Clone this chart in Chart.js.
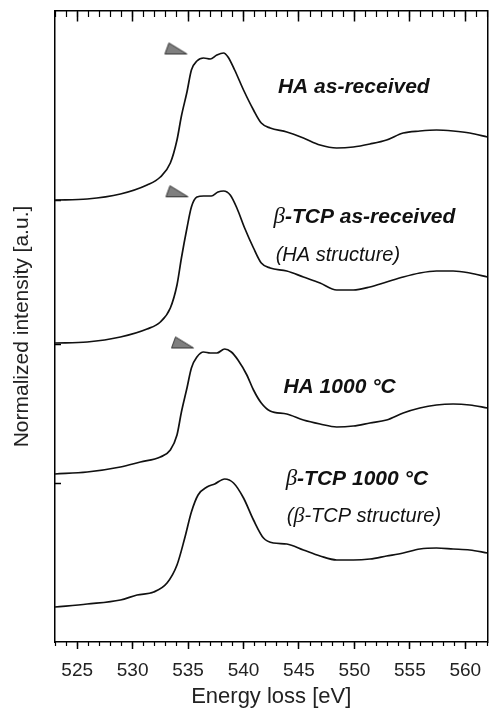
<!DOCTYPE html>
<html>
<head>
<meta charset="utf-8">
<script src="https://cdn.jsdelivr.net/npm/chart.js@4.4.1/dist/chart.umd.min.js"></script>
<style>
  html, body { margin: 0; padding: 0; background: #fff; }
  #wrap { width: 489px; height: 710px; }
</style>
</head>
<body>
<div id="wrap"><canvas id="elnesChart"></canvas></div>
<script>
// ====== DATA (intensity already offset, a.u.) ======
const energyHA = [523.0, 525.9, 528.9, 531.3, 532.5, 533.4, 534.0, 534.4, 534.9, 535.3, 535.8, 536.4, 537.0, 537.6, 538.2, 538.6, 539.2, 540.0, 540.9, 541.6, 542.4, 543.9, 545.4, 546.9, 548.4, 549.9, 551.4, 552.9, 554.4, 555.9, 557.4, 558.9, 560.4, 562.0];
const intensityHA = [442, 443, 448, 457, 465, 479, 502, 526, 550, 572, 581, 584, 583, 587, 589, 585, 572, 552, 532, 519, 514, 510, 504, 497, 494, 495, 498, 502, 509, 511, 512, 511, 509, 505];

const energyTCP = [523.0, 525.9, 528.9, 531.3, 532.5, 533.4, 534.0, 534.4, 534.9, 535.3, 535.8, 536.4, 537.1, 537.7, 538.2, 538.8, 539.4, 540.1, 540.9, 541.6, 542.4, 543.9, 545.4, 546.9, 548.4, 549.9, 551.4, 552.9, 554.4, 555.9, 557.4, 558.9, 560.4, 562.0];
const intensityTCP = [299, 300, 305, 313, 320, 334, 357, 384, 414, 435, 445, 446, 446, 450, 451, 447, 434, 414, 394, 379, 374, 371, 365, 359, 352, 352, 355, 360, 365, 369, 371, 371, 369, 365];

const energyHA1000 = [523.0, 525.9, 528.9, 530.7, 532.5, 533.4, 534.0, 534.4, 534.9, 535.3, 535.8, 536.4, 537.0, 537.6, 538.3, 538.9, 539.5, 540.3, 540.9, 541.6, 542.4, 543.9, 545.4, 546.9, 548.4, 549.9, 551.4, 552.9, 554.4, 555.9, 557.4, 558.9, 560.4, 562.0];
const intensityHA1000 = [168, 170, 175, 180, 185, 192, 207, 230, 254, 274, 285, 290, 289, 289, 293, 290, 282, 267, 252, 239, 231, 228, 222, 218, 215, 216, 219, 222, 229, 234, 237, 238, 237, 234];

const energyTCP1000 = [523.0, 525.9, 528.9, 530.4, 531.9, 533.1, 534.0, 534.7, 535.3, 535.9, 536.7, 537.4, 538.3, 539.1, 540.0, 540.9, 541.8, 542.7, 543.9, 545.4, 546.9, 548.4, 549.9, 551.4, 552.9, 554.4, 555.9, 557.4, 558.9, 560.4, 562.0];
const intensityTCP1000 = [35, 38, 42, 47, 50, 59, 77, 104, 130, 147, 155, 158, 163, 159, 144, 122, 104, 99, 98, 92, 86, 82, 82, 83, 86, 89, 93, 94, 93, 92, 89];

// pre-edge markers (grey triangles)
const markerEnergy = [533.9, 534.0, 534.5];
const markerIntensity = [593.5, 450.7, 299.5];

// tick labels
const energyTicks = [525, 530, 535, 540, 545, 550, 555, 560];
const offsetTicks = [159, 298, 442];

// ====== LABELS ======
const boldFont = 'italic bold 21px "Liberation Sans", Arial, sans-serif';
const plainFont = 'italic 20px "Liberation Sans", Arial, sans-serif';
const betaFont = 'italic 23px "Liberation Serif", "Times New Roman", serif';
const betaSmall = 'italic 22px "Liberation Serif", "Times New Roman", serif';

const specLabels = [
    { e: 543.1, v: 549, parts: [['HA as-received', boldFont]] },
    { e: 542.7, v: 419, parts: [['\u03B2', betaFont], ['-TCP as-received', boldFont]] },
    { e: 542.9, v: 381, parts: [['(HA structure)', plainFont]] },
    { e: 543.6, v: 249, parts: [['HA 1000 \u00B0C', boldFont]] },
    { e: 543.8, v: 157, parts: [['\u03B2', betaFont], ['-TCP 1000 \u00B0C', boldFont]] },
    { e: 543.9, v: 120, parts: [['(', plainFont], ['\u03B2', betaSmall], ['-TCP structure)', plainFont]] }
];

const labelPlugin = {
    id: 'specLabels',
    afterDatasetsDraw(chart) {
        const { ctx, scales: { x, y } } = chart;
        ctx.save();
        ctx.fillStyle = '#111';
        ctx.textBaseline = 'alphabetic';
        ctx.textAlign = 'left';
        specLabels.forEach(l => {
            let px = x.getPixelForValue(l.e);
            const py = y.getPixelForValue(l.v);
            l.parts.forEach(([txt, font]) => {
                ctx.font = font;
                ctx.fillText(txt, px, py);
                px += ctx.measureText(txt).width;
            });
        });
        ctx.restore();
    }
};

// grey triangle used as point style
function makeTriangle() {
    const c = document.createElement('canvas');
    c.width = 25;
    c.height = 14;
    const g = c.getContext('2d');
    g.beginPath();
    g.moveTo(5.5, 1.5);
    g.lineTo(1.5, 12.5);
    g.lineTo(23.5, 12.5);
    g.closePath();
    g.fillStyle = '#7f7f7f';
    g.fill();
    g.strokeStyle = '#333';
    g.lineWidth = 1;
    g.stroke();
    return c;
}

function toXY(xs, ys) {
    return xs.map((e, i) => ({ x: e, y: ys[i] }));
}

function spectrum(xs, ys) {
    return {
        type: 'line',
        data: toXY(xs, ys),
        borderColor: '#111',
        borderWidth: 1.7,
        pointRadius: 0,
        fill: false,
        cubicInterpolationMode: 'monotone',
        xAxisID: 'x',
        yAxisID: 'y'
    };
}

function noPad(s) {
    s.paddingLeft = 0;
    s.paddingRight = 0;
    s.paddingTop = 0;
    s.paddingBottom = 0;
}

const E_MIN = 523, E_MAX = 562, I_MIN = 0, I_MAX = 631;

const ctx = document.getElementById('elnesChart').getContext('2d');
new Chart(ctx, {
    type: 'line',
    data: {
        datasets: [
            spectrum(energyHA, intensityHA),
            spectrum(energyTCP, intensityTCP),
            spectrum(energyHA1000, intensityHA1000),
            spectrum(energyTCP1000, intensityTCP1000),
            {
                type: 'scatter',
                data: toXY(markerEnergy, markerIntensity),
                pointStyle: makeTriangle(),
                pointRadius: 6,
                showLine: false,
                xAxisID: 'x',
                yAxisID: 'y'
            }
        ]
    },
    options: {
        responsive: true,
        maintainAspectRatio: false,
        animation: false,
        layout: { autoPadding: false, padding: { top: 11, right: 1.5, bottom: 0, left: 0 } },
        plugins: { legend: { display: false }, tooltip: { enabled: false } },
        scales: {
            x: {
                type: 'linear',
                position: 'bottom',
                min: E_MIN,
                max: E_MAX,
                afterBuildTicks: s => { s.ticks = energyTicks.map(v => ({ value: v })); },
                afterFit: s => { s.height = 68; noPad(s); },
                grid: { drawOnChartArea: false, tickLength: 7, tickWidth: 1.5, tickColor: '#000' },
                border: { color: '#000', width: 1.5 },
                ticks: {
                    color: '#222',
                    padding: 10,
                    maxRotation: 0,
                    autoSkip: false,
                    font: { family: '"Liberation Sans", Arial, sans-serif', size: 19 }
                },
                title: {
                    display: true,
                    text: 'Energy loss [eV]',
                    color: '#222',
                    padding: { top: 0, bottom: 0 },
                    font: { family: '"Liberation Sans", Arial, sans-serif', size: 22 }
                }
            },
            xMinor: {
                type: 'linear',
                position: { y: I_MIN },
                min: E_MIN,
                max: E_MAX,
                ticks: { stepSize: 1, display: false },
                grid: { drawOnChartArea: false, tickLength: 4, tickWidth: 1.2, tickColor: '#000' },
                border: { display: false }
            },
            xTop: {
                type: 'linear',
                position: { y: I_MAX },
                min: E_MIN,
                max: E_MAX,
                afterBuildTicks: s => { s.ticks = energyTicks.map(v => ({ value: v })); },
                ticks: { display: false },
                grid: { drawOnChartArea: false, tickLength: 10, tickWidth: 1.5, tickColor: '#000' },
                border: { color: '#000', width: 1.5 }
            },
            xTopMinor: {
                type: 'linear',
                position: { y: I_MAX },
                min: E_MIN,
                max: E_MAX,
                ticks: { stepSize: 1, display: false },
                grid: { drawOnChartArea: false, tickLength: 6, tickWidth: 1.2, tickColor: '#000' },
                border: { display: false }
            },
            y: {
                type: 'linear',
                position: 'left',
                min: I_MIN,
                max: I_MAX,
                afterFit: s => { s.width = 55; noPad(s); },
                grid: { drawOnChartArea: false, drawTicks: false },
                border: { color: '#000', width: 1.5 },
                ticks: { display: false },
                title: {
                    display: true,
                    text: 'Normalized intensity [a.u.]',
                    color: '#222',
                    padding: { top: 10, bottom: 0 },
                    font: { family: '"Liberation Sans", Arial, sans-serif', size: 21 }
                }
            },
            yOffsets: {
                type: 'linear',
                position: { x: E_MIN },
                min: I_MIN,
                max: I_MAX,
                afterBuildTicks: s => { s.ticks = offsetTicks.map(v => ({ value: v })); },
                ticks: { display: false },
                grid: { drawOnChartArea: false, tickLength: -6, tickWidth: 1.5, tickColor: '#000' },
                border: { display: false }
            },
            yRight: {
                type: 'linear',
                position: { x: E_MAX },
                min: I_MIN,
                max: I_MAX,
                ticks: { display: false },
                grid: { drawOnChartArea: false, drawTicks: false },
                border: { color: '#000', width: 1.5 }
            }
        }
    },
    plugins: [labelPlugin]
});
</script>
</body>
</html>
